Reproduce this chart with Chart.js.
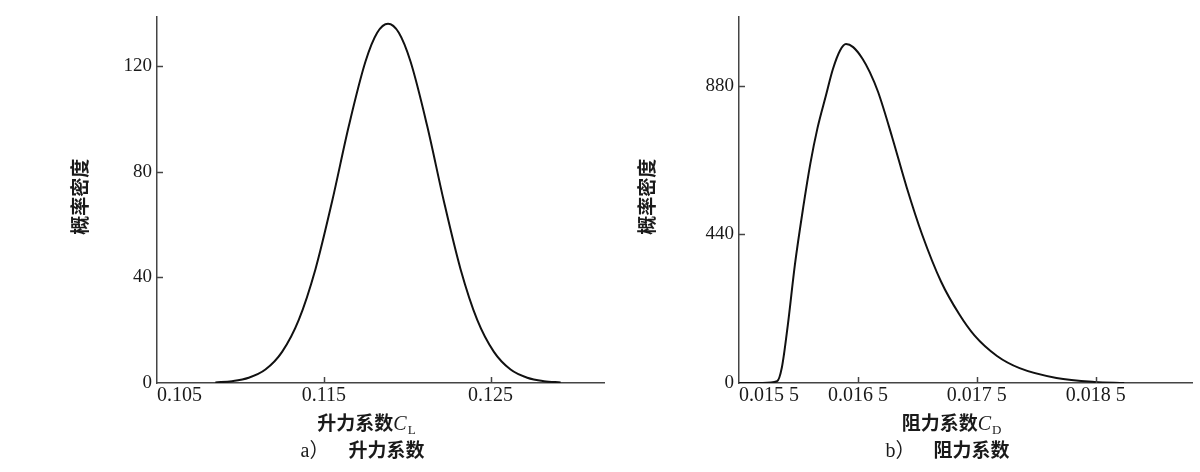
<!DOCTYPE html>
<html><head><meta charset="utf-8">
<script src="https://cdn.jsdelivr.net/npm/chart.js@4.4.1/dist/chart.umd.min.js"></script>
<style>
html,body{margin:0;padding:0;background:#fff;width:1200px;height:472px;overflow:hidden}
#l{position:absolute;left:0;top:0}
#r{position:absolute;left:620px;top:0}
</style></head><body>
<canvas id="l" width="620" height="472"></canvas>
<canvas id="r" width="580" height="472"></canvas>
<script>
// ---- data ----
const liftCoef    = [0.1085, 0.1095, 0.1105, 0.1115, 0.1125, 0.1135, 0.1145, 0.1155, 0.1165, 0.1175, 0.1182, 0.11885, 0.1195, 0.1202, 0.1212, 0.1222, 0.1232, 0.1242, 0.1252, 0.1262, 0.1272, 0.1282, 0.1292];
const liftDensity = [0.2, 0.7, 2.0, 5.1, 11.8, 23.9, 43.1, 68.8, 97.3, 121.7, 132.6, 136, 132.6, 121.7, 97.3, 68.8, 43.1, 23.9, 11.8, 5.1, 2.0, 0.7, 0.2];
const liftXTicks = [0.105, 0.115, 0.125];
const liftXTickLabels = ['0.105', '0.115', '0.125'];
const liftYTicks = [0, 40, 80, 120];
const liftXRange = [0.105, 0.1318];
const liftYRange = [0, 138.8];

const dragCoef    = [0.0152, 0.0157, 0.01582, 0.01586, 0.01591, 0.01597, 0.01604, 0.01610, 0.01616, 0.01623, 0.01629, 0.01635, 0.01640, 0.01646, 0.01654, 0.01660, 0.01667, 0.01679, 0.01691, 0.01704, 0.01720, 0.01735, 0.01748, 0.01767, 0.01786, 0.01817, 0.01849, 0.01874];
const dragDensity = [0, 0, 5, 45, 170, 350, 520, 650, 755, 850, 930, 985, 1004, 995, 960, 921, 862, 726, 580, 440, 300, 205, 141, 80, 44, 15, 3, 0];
const dragXTicks = [0.0155, 0.0165, 0.0175, 0.0185];
const dragXTickLabels = ['0.015 5', '0.016 5', '0.017 5', '0.018 5'];
const dragYTicks = [0, 440, 880];
const dragXRange = [0.0155, 0.01931];
const dragYRange = [0, 1086];

const yAxisTitle = '概率密度';
const liftXTitle = ['升力系数', 'C', 'L'];
const dragXTitle = ['阻力系数', 'C', 'D'];
const liftCaption = ['a）', '升力系数'];
const dragCaption = ['b）', '阻力系数'];

// ---- drawing ----
const SERIF = '"Liberation Serif", "Times New Roman", serif';
const CJK = '"Noto Sans CJK SC", sans-serif';
const INK = '#1a1a1a';

const decor = {
  id: 'decor',
  afterDraw(chart, args, o) {
    const ctx = chart.ctx, a = chart.chartArea, xs = chart.scales.x, ys = chart.scales.y;
    ctx.save();
    ctx.strokeStyle = '#444'; ctx.lineWidth = 1.5;
    xs.ticks.forEach((t, i) => {
      if (i === 0 || i === xs.ticks.length - 1) return;
      const px = Math.round(xs.getPixelForValue(t.value)) + 0.5;
      ctx.beginPath(); ctx.moveTo(px, a.bottom); ctx.lineTo(px, a.bottom - 6); ctx.stroke();
    });
    ys.ticks.forEach((t, i) => {
      if (i === 0) return;
      const py = Math.round(ys.getPixelForValue(t.value)) + 0.5;
      ctx.beginPath(); ctx.moveTo(a.left, py); ctx.lineTo(a.left + 6, py); ctx.stroke();
    });
    ctx.fillStyle = INK;
    // y title
    ctx.save();
    ctx.translate(o.yTitleX, (a.top + a.bottom) / 2 - 3);
    ctx.rotate(-Math.PI / 2);
    ctx.font = 'bold 19px ' + CJK;
    ctx.textAlign = 'center'; ctx.textBaseline = 'middle';
    ctx.fillText(yAxisTitle, 0, 0);
    ctx.restore();
    // x title with subscript
    const cx = (a.left + a.right) / 2 - 14;
    const t = o.xTitle;
    ctx.textBaseline = 'alphabetic'; ctx.textAlign = 'left';
    ctx.font = 'bold 19px ' + CJK; const w1 = ctx.measureText(t[0]).width;
    ctx.font = 'italic 20px ' + SERIF; const w2 = ctx.measureText(t[1]).width;
    ctx.font = '13px ' + SERIF; const w3 = ctx.measureText(t[2]).width;
    let x = cx - (w1 + w2 + w3 + 1) / 2;
    const by = a.bottom + 47;
    ctx.font = 'bold 19px ' + CJK; ctx.fillText(t[0], x, by); x += w1;
    ctx.font = 'italic 20px ' + SERIF; ctx.fillText(t[1], x, by); x += w2 + 1;
    ctx.font = '13px ' + SERIF; ctx.fillText(t[2], x, by + 4);
    // caption
    const c = o.caption;
    const sx = cx - 66;
    const cy = a.bottom + 74;
    ctx.font = '20px ' + SERIF + ', ' + CJK; ctx.fillText(c[0], sx, cy);
    ctx.font = 'bold 19px ' + CJK; ctx.fillText(c[1], sx + 48, cy);
    ctx.restore();
  }
};

function makeChart(id, xs, ys, xTicks, xLabels, yTicks, xr, yr, yW, padR, opts) {
  return new Chart(document.getElementById(id), {
    type: 'line',
    data: { datasets: [{
      data: xs.map((v, i) => ({ x: v, y: ys[i] })),
      borderColor: '#111', borderWidth: 2, pointRadius: 0,
      cubicInterpolationMode: 'monotone', fill: false
    }]},
    options: {
      responsive: false, animation: false, devicePixelRatio: 1,
      layout: { padding: { left: 0, right: padR, top: 12, bottom: 0 } },
      plugins: { legend: { display: false }, tooltip: { enabled: false }, decor: opts },
      scales: {
        x: {
          type: 'linear', min: xr[0], max: xr[1],
          afterBuildTicks: s => { s.ticks = xTicks.map(v => ({ value: v })).concat([{ value: xr[1] }]); },
          afterFit: s => { s.height = 89; },
          grid: { display: true, drawOnChartArea: false, drawTicks: false },
          border: { display: true, color: '#444', width: 1.5 },
          ticks: { align: 'inner', autoSkip: false, maxRotation: 0, padding: 1,
            font: { family: SERIF, size: 20 }, color: INK,
            callback: (v, i) => (i < xLabels.length ? xLabels[i] : '') }
        },
        y: {
          type: 'linear', min: yr[0], max: yr[1],
          afterBuildTicks: s => { s.ticks = yTicks.map(v => ({ value: v })); },
          afterFit: s => { s.width = yW; },
          grid: { display: true, drawOnChartArea: false, drawTicks: false },
          border: { display: true, color: '#444', width: 1.5 },
          ticks: { autoSkip: false, padding: 5, font: { family: SERIF, size: 19 }, color: INK,
            callback: v => String(v) }
        }
      }
    },
    plugins: [decor]
  });
}

makeChart('l', liftCoef, liftDensity, liftXTicks, liftXTickLabels, liftYTicks, liftXRange, liftYRange, 157, 16,
  { yTitleX: 80, xTitle: liftXTitle, caption: liftCaption });
makeChart('r', dragCoef, dragDensity, dragXTicks, dragXTickLabels, dragYTicks, dragXRange, dragYRange, 119, 8,
  { yTitleX: 27, xTitle: dragXTitle, caption: dragCaption });
</script>
</body></html>
